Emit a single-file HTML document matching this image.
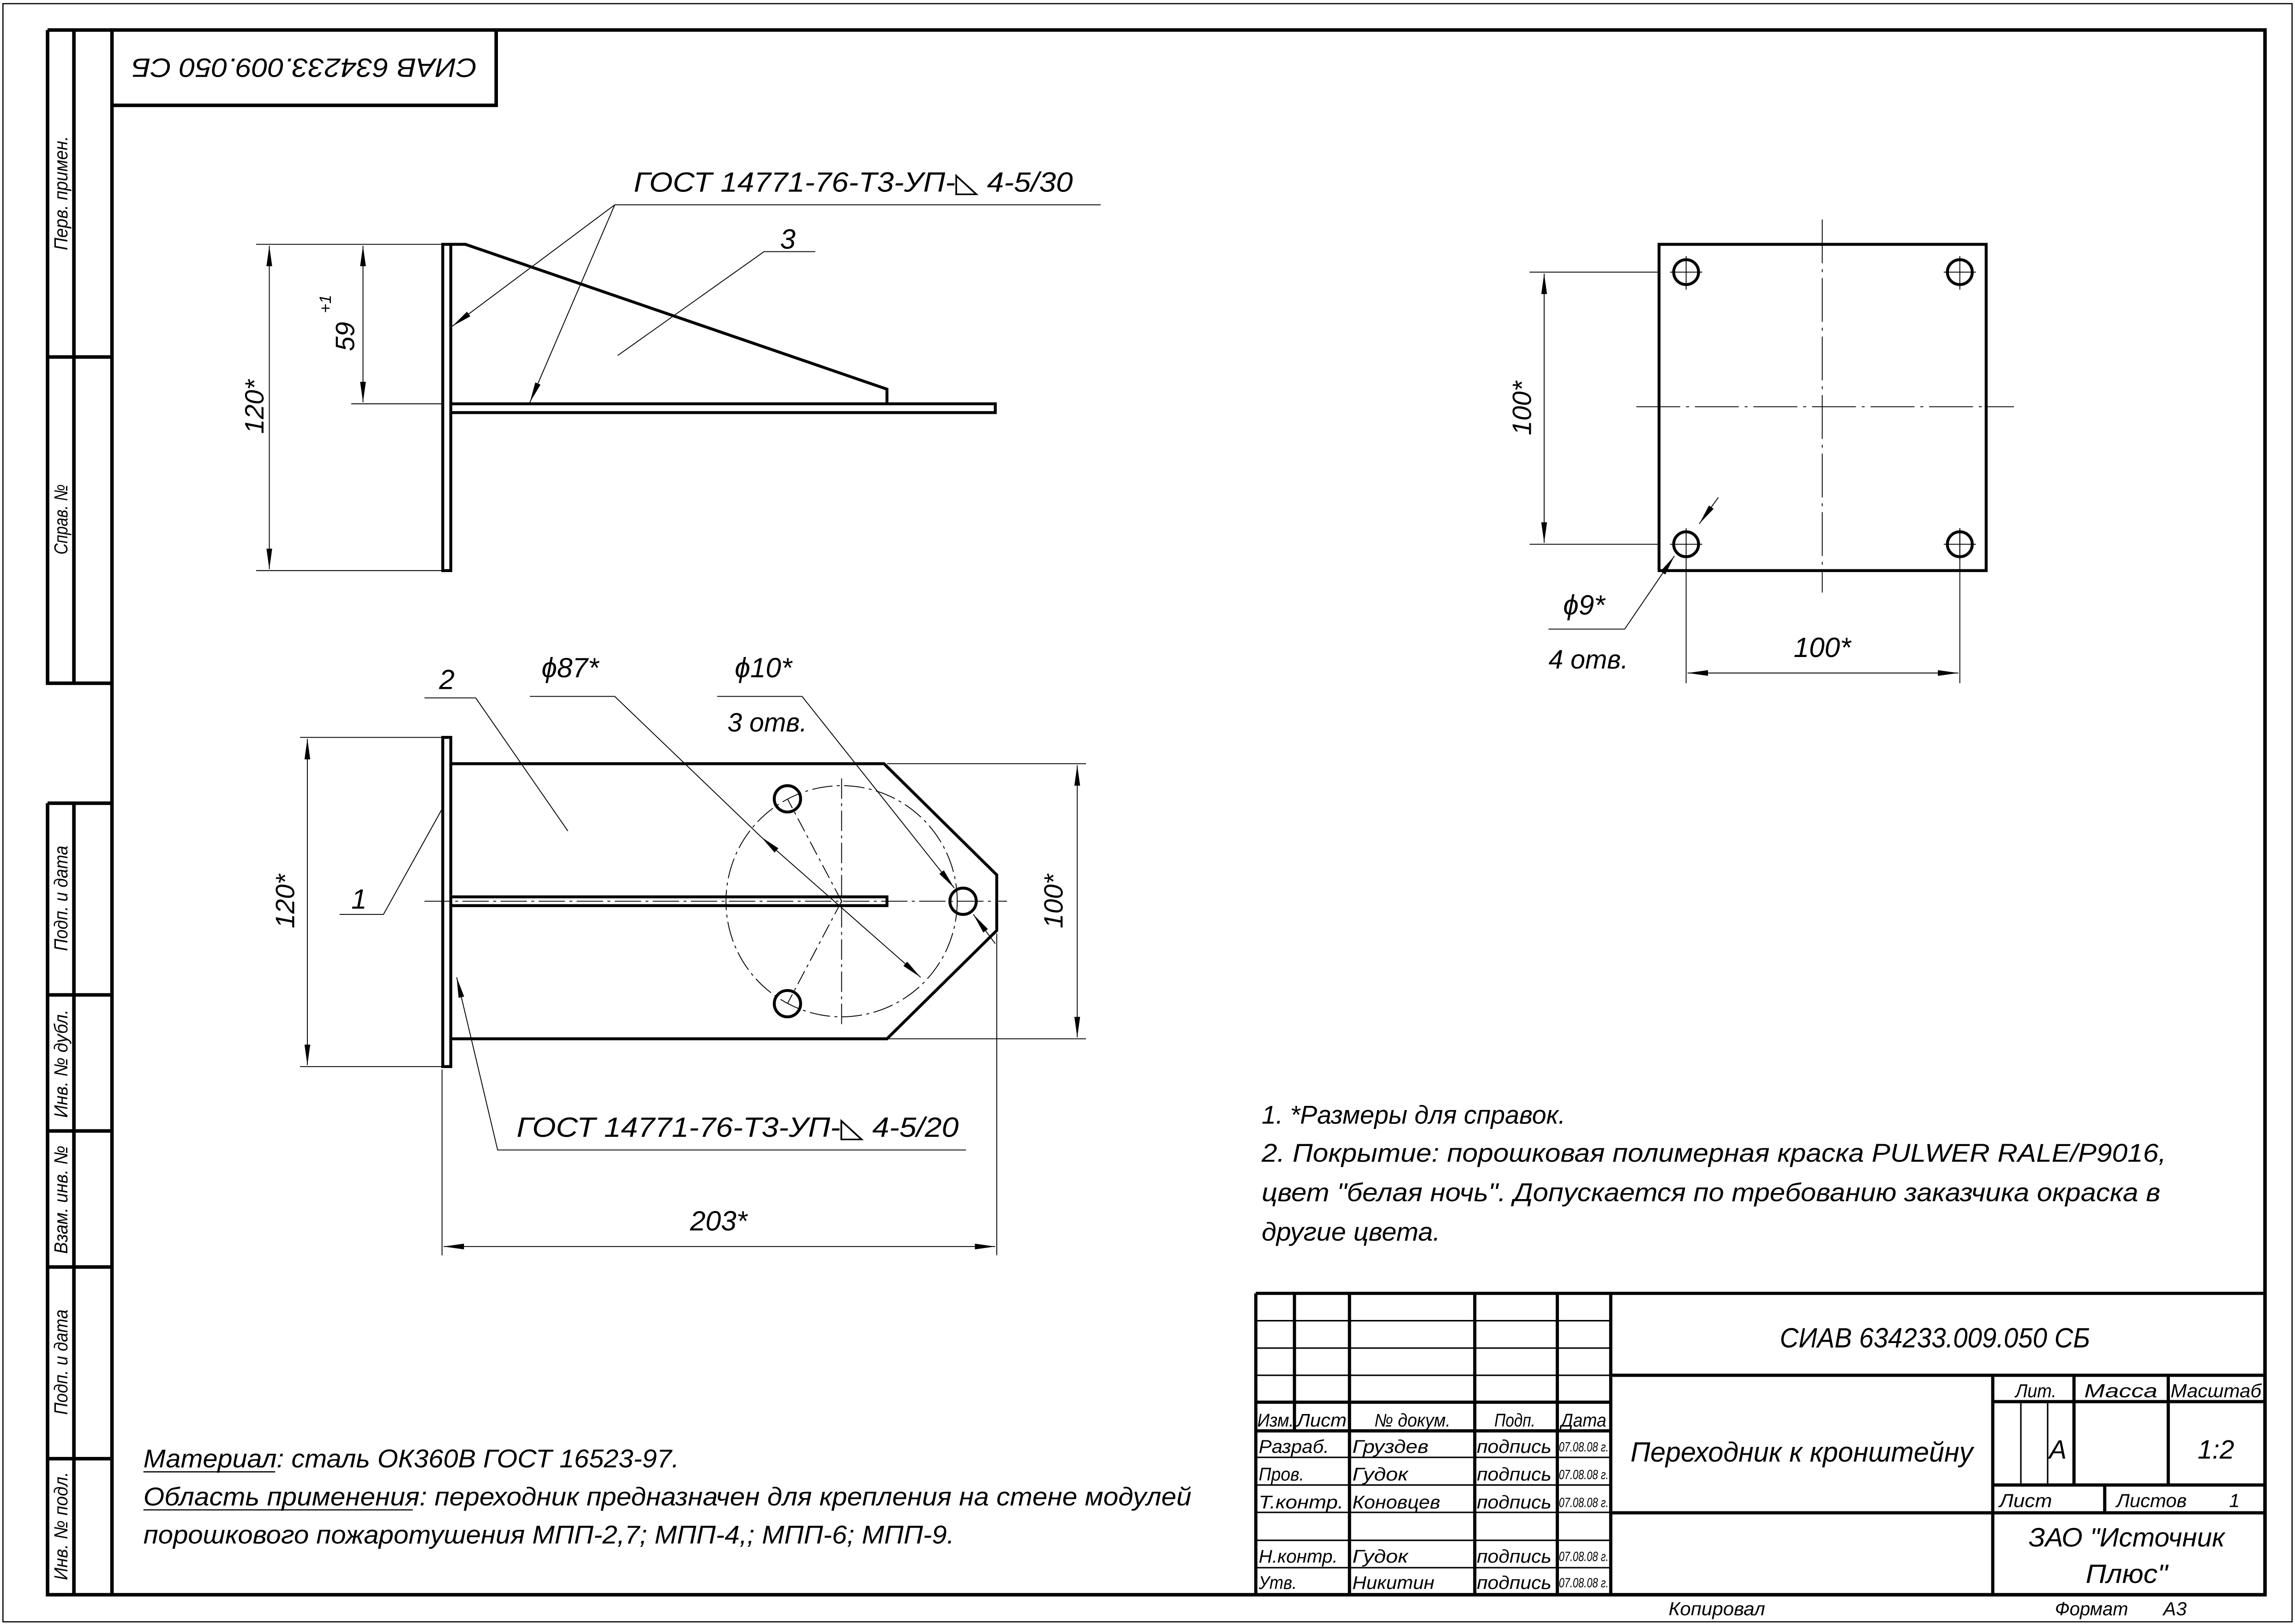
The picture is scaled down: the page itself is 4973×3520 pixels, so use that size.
<!DOCTYPE html>
<html><head><meta charset="utf-8">
<style>
html,body{margin:0;padding:0;background:#fff;}
svg{display:block;}
text{font-family:"Liberation Sans","DejaVu Sans",sans-serif;font-style:italic;fill:#000;}
</style></head>
<body>
<svg xmlns="http://www.w3.org/2000/svg" width="4973" height="3520" viewBox="0 0 1568 1110" preserveAspectRatio="none">
<defs>
<marker id="a" markerUnits="userSpaceOnUse" markerWidth="14" markerHeight="6" refX="10" refY="2" orient="auto-start-reverse" viewBox="0 0 10 4">
<path d="M0,0.6 L10,2 L0,3.4 Z" fill="#000"/>
</marker>
</defs>
<rect width="1568" height="1110" fill="#fff"/>
<rect x="2" y="2.5" width="1564" height="1106" fill="none" stroke="#000" stroke-width="0.8"/>
<g stroke="#000" stroke-width="2.4" fill="none">
<rect x="76.5" y="20.5" width="1471" height="1069.5"/>
<path d="M32.5,20.5 H76.5 M32.5,20.5 V467 H76.5 M50.5,20.5 V467 M32.5,244 H76.5"/>
<path d="M32.5,549 H76.5 M32.5,549 V1090 H76.5 M50.5,549 V1090 M32.5,680 H76.5 M32.5,773 H76.5 M32.5,866 H76.5 M32.5,997 H76.5"/>
<path d="M76.5,72 H339 V20.5"/>
</g>
<g font-size="13">
<text transform="translate(46,132) rotate(-90)" text-anchor="middle" textLength="78" lengthAdjust="spacingAndGlyphs">Перв. примен.</text>
<text transform="translate(46,355) rotate(-90)" text-anchor="middle" textLength="48" lengthAdjust="spacingAndGlyphs">Справ. №</text>
<text transform="translate(46,614) rotate(-90)" text-anchor="middle" textLength="72" lengthAdjust="spacingAndGlyphs">Подп. и дата</text>
<text transform="translate(46,727) rotate(-90)" text-anchor="middle" textLength="74" lengthAdjust="spacingAndGlyphs">Инв. № дубл.</text>
<text transform="translate(46,820) rotate(-90)" text-anchor="middle" textLength="74" lengthAdjust="spacingAndGlyphs">Взам. инв. №</text>
<text transform="translate(46,931) rotate(-90)" text-anchor="middle" textLength="72" lengthAdjust="spacingAndGlyphs">Подп. и дата</text>
<text transform="translate(46,1043) rotate(-90)" text-anchor="middle" textLength="74" lengthAdjust="spacingAndGlyphs">Инв. № подл.</text>
</g>
<text transform="translate(208,40) rotate(180)" text-anchor="middle" font-size="18" textLength="236" lengthAdjust="spacingAndGlyphs">СИАВ 634233.009.050 СБ</text>

<g stroke="#000" stroke-width="2" fill="none">
<rect x="302.5" y="167" width="5.5" height="223"/>
<path d="M308,167 H318 L606,266 V276"/>
<path d="M308,276 H680 V282 H308"/>
</g>
<g stroke="#000" stroke-width="0.6" fill="none">
<path d="M175,167 H302 M175,390 H302 M240,276 H302"/>
<path d="M184,168 V389" marker-start="url(#a)" marker-end="url(#a)"/>
<path d="M248,168 V275" marker-start="url(#a)" marker-end="url(#a)"/>
<path d="M752,140 H420"/>
<path d="M420,140 L309,223" marker-end="url(#a)"/>
<path d="M420,140 L362,275" marker-end="url(#a)"/>
<path d="M557,172 H522 L422,243"/>
</g>
<text transform="translate(180,278) rotate(-90)" text-anchor="middle" font-size="18">120*</text>
<text transform="translate(242,230) rotate(-90)" text-anchor="middle" font-size="18">59</text>
<text transform="translate(226,214) rotate(-90)" font-size="11">+1</text>
<text x="433" y="131" font-size="19" textLength="300" lengthAdjust="spacingAndGlyphs">ГОСТ 14771-76-Т3-УП-◺ 4-5/30</text>
<text x="533" y="170" font-size="19">3</text>

<g stroke="#000" stroke-width="2" fill="none">
<rect x="302.5" y="504" width="5.5" height="225"/>
<path d="M308,522 H604 L681,598 V636 L606,710 H308"/>
<path d="M308,613 H606 V619 H308"/>
<circle cx="538" cy="546" r="9"/>
<circle cx="538" cy="686" r="9"/>
<circle cx="658" cy="616" r="9"/>
</g>
<g stroke="#000" stroke-width="0.6" fill="none">
<circle cx="575" cy="616" r="79" stroke-dasharray="14,3,2,3"/>
<path d="M575,532 V700" stroke-dasharray="14,3,2,3"/>
<path d="M290,616 H688" stroke-dasharray="18,3,2,3"/>
<path d="M575,616 L538,546 M575,616 L538,686" stroke-dasharray="10,3,2,3"/>
<path d="M205,504 H302 M205,729 H302 M606,522 H742 M606,710 H742"/>
<path d="M210,505 V728" marker-start="url(#a)" marker-end="url(#a)"/>
<path d="M736,523 V709" marker-start="url(#a)" marker-end="url(#a)"/>
<path d="M302,731 V858 M681,638 V858"/>
<path d="M303,852 H680" marker-start="url(#a)" marker-end="url(#a)"/>
<path d="M362,476 H420 L520,572" />
<path d="M520,572 L629,668" marker-start="url(#a)" marker-end="url(#a)"/>
<path d="M490,476 H548 L652,607" marker-end="url(#a)"/>
<path d="M680,645 L665,625" marker-end="url(#a)"/>
<path d="M290,477 H325 L388,568"/>
<path d="M232,625 H262 L302,553"/>
<path d="M660,786 H340 L312,668" marker-end="url(#a)"/>
</g>
<text transform="translate(201,616) rotate(-90)" text-anchor="middle" font-size="18">120*</text>
<text transform="translate(726,616) rotate(-90)" text-anchor="middle" font-size="18">100*</text>
<text x="491" y="841" text-anchor="middle" font-size="19">203*</text>
<text x="370" y="463" font-size="19">ϕ87*</text>
<text x="502" y="463" font-size="19">ϕ10*</text>
<text x="497" y="500" font-size="18">3 отв.</text>
<text x="300" y="471" font-size="19">2</text>
<text x="240" y="621" font-size="19">1</text>
<text x="353" y="777" font-size="19" textLength="302" lengthAdjust="spacingAndGlyphs">ГОСТ 14771-76-Т3-УП-◺ 4-5/20</text>

<g stroke="#000" stroke-width="2" fill="none">
<rect x="1133.5" y="167" width="223.5" height="223"/>
<circle cx="1152" cy="186" r="8.5"/>
<circle cx="1339" cy="186" r="8.5"/>
<circle cx="1152" cy="372" r="8.5"/>
<circle cx="1339" cy="372" r="8.5"/>
</g>
<g stroke="#000" stroke-width="0.6" fill="none">
<path d="M1245,150 V405" stroke-dasharray="30,4,2,4"/>
<path d="M1118,278 H1376" stroke-dasharray="30,4,2,4"/>
<path d="M1152,175 V198 M1141,186 H1163 M1339,175 V198 M1328,186 H1350 M1141,372 H1163 M1328,372 H1350 M1339,361 V383"/>
<path d="M1045,186 H1133 M1045,372 H1133"/>
<path d="M1055,187 V371" marker-start="url(#a)" marker-end="url(#a)"/>
<path d="M1152,361 V467 M1339,361 V467"/>
<path d="M1153,460 H1338" marker-start="url(#a)" marker-end="url(#a)"/>
<path d="M1058,430 H1110 L1144,380" marker-end="url(#a)"/>
<path d="M1174,340 L1161,358" marker-end="url(#a)"/>
</g>
<text transform="translate(1046,279) rotate(-90)" text-anchor="middle" font-size="18">100*</text>
<text x="1245" y="449" text-anchor="middle" font-size="19">100*</text>
<text x="1068" y="420" font-size="19">ϕ9*</text>
<text x="1058" y="457" font-size="18">4 отв.</text>

<g font-size="17.5">
<text x="862" y="768">1.  *Размеры для справок.</text>
<text x="862" y="794" textLength="618" lengthAdjust="spacingAndGlyphs">2.  Покрытие: порошковая полимерная краска PULWER RALE/P9016,</text>
<text x="862" y="821" textLength="614" lengthAdjust="spacingAndGlyphs">цвет "белая ночь". Допускается по требованию заказчика окраска в</text>
<text x="862" y="848" textLength="122" lengthAdjust="spacingAndGlyphs">другие цвета.</text>
</g>
<g font-size="17.5">
<text x="98" y="1003" textLength="366" lengthAdjust="spacingAndGlyphs">Материал: сталь ОК360В ГОСТ 16523-97.</text>
<text x="98" y="1029" textLength="716" lengthAdjust="spacingAndGlyphs">Область применения: переходник предназначен для крепления на стене модулей</text>
<text x="98" y="1055" textLength="554" lengthAdjust="spacingAndGlyphs">порошкового пожаротушения МПП-2,7; МПП-4,; МПП-6; МПП-9.</text>
</g>
<path d="M98,1006 H188 M98,1032 H282" stroke="#000" stroke-width="0.8"/>

<g stroke="#000" fill="none">
<g stroke-width="2.2">
<path d="M858,884 H1547.5 M858,884 V1090"/>
<path d="M858,958.4 H1100.5 M858,978 H1100.5"/>
<path d="M884.4,884 V978 M922,884 V1090 M1007.6,884 V1090 M1064,884 V1090 M1100.5,884 V1090"/>
<path d="M1100.5,940 H1547.5 M1100.5,1034 H1547.5"/>
<path d="M1361.5,940 V1090 M1361.5,958 H1547.5 M1417,940 V1015 M1481.4,940 V1015 M1361.5,1015 H1547.5 M1438,1015 V1034"/>
</g>
<g stroke-width="1">
<path d="M858,902.7 H1100.5 M858,921.4 H1100.5 M858,940 H1100.5"/>
<path d="M858,996.1 H1100.5 M858,1015 H1100.5 M858,1033.7 H1100.5 M858,1052.8 H1100.5 M858,1071.5 H1100.5"/>
<path d="M1380.7,959 V1015 M1399,959 V1015"/>
</g>
</g>
<text x="1322" y="921" text-anchor="middle" font-size="19" textLength="212" lengthAdjust="spacingAndGlyphs">СИАВ 634233.009.050 СБ</text>
<text x="1231" y="999" text-anchor="middle" font-size="19" textLength="234" lengthAdjust="spacingAndGlyphs">Переходник к кронштейну</text>
<g font-size="13">
<text x="1391" y="955" text-anchor="middle" textLength="28" lengthAdjust="spacingAndGlyphs">Лит.</text>
<text x="1449" y="955" text-anchor="middle" textLength="50" lengthAdjust="spacingAndGlyphs">Масса</text>
<text x="1514" y="955" text-anchor="middle" textLength="62" lengthAdjust="spacingAndGlyphs">Масштаб</text>
<text x="1366" y="1030" textLength="36" lengthAdjust="spacingAndGlyphs">Лист</text>
<text x="1446" y="1030" textLength="48" lengthAdjust="spacingAndGlyphs">Листов</text>
<text x="1523" y="1030">1</text>
</g>
<text x="1406" y="997" text-anchor="middle" font-size="18">А</text>
<text x="1514" y="997" text-anchor="middle" font-size="18">1:2</text>
<text x="1453" y="1057" text-anchor="middle" font-size="18" textLength="134" lengthAdjust="spacingAndGlyphs">ЗАО "Источник</text>
<text x="1453" y="1082" text-anchor="middle" font-size="18" textLength="56" lengthAdjust="spacingAndGlyphs">Плюс"</text>
<g font-size="12.5">
<text x="859" y="975" textLength="25" lengthAdjust="spacingAndGlyphs">Изм.</text>
<text x="886" y="975" textLength="34" lengthAdjust="spacingAndGlyphs">Лист</text>
<text x="965" y="975" text-anchor="middle" textLength="52" lengthAdjust="spacingAndGlyphs">№ докум.</text>
<text x="1035" y="975" text-anchor="middle" textLength="28" lengthAdjust="spacingAndGlyphs">Подп.</text>
<text x="1082" y="975" text-anchor="middle" textLength="31" lengthAdjust="spacingAndGlyphs">Дата</text>
<text x="860" y="993" textLength="48" lengthAdjust="spacingAndGlyphs">Разраб.</text>
<text x="860" y="1012" textLength="31" lengthAdjust="spacingAndGlyphs">Пров.</text>
<text x="860" y="1031" textLength="58" lengthAdjust="spacingAndGlyphs">Т.контр.</text>
<text x="860" y="1068" textLength="54" lengthAdjust="spacingAndGlyphs">Н.контр.</text>
<text x="860" y="1086" textLength="26" lengthAdjust="spacingAndGlyphs">Утв.</text>
<text x="924" y="993" textLength="52" lengthAdjust="spacingAndGlyphs">Груздев</text>
<text x="924" y="1012" textLength="38" lengthAdjust="spacingAndGlyphs">Гудок</text>
<text x="924" y="1031" textLength="60" lengthAdjust="spacingAndGlyphs">Коновцев</text>
<text x="924" y="1068" textLength="38" lengthAdjust="spacingAndGlyphs">Гудок</text>
<text x="924" y="1086" textLength="56" lengthAdjust="spacingAndGlyphs">Никитин</text>
<text x="1009" y="993" textLength="51" lengthAdjust="spacingAndGlyphs">подпись</text>
<text x="1009" y="1012" textLength="51" lengthAdjust="spacingAndGlyphs">подпись</text>
<text x="1009" y="1031" textLength="51" lengthAdjust="spacingAndGlyphs">подпись</text>
<text x="1009" y="1068" textLength="51" lengthAdjust="spacingAndGlyphs">подпись</text>
<text x="1009" y="1086" textLength="51" lengthAdjust="spacingAndGlyphs">подпись</text>
</g>
<g font-size="9">
<text x="1065" y="992" textLength="34" lengthAdjust="spacingAndGlyphs">07.08.08 г.</text>
<text x="1065" y="1011" textLength="34" lengthAdjust="spacingAndGlyphs">07.08.08 г.</text>
<text x="1065" y="1030" textLength="34" lengthAdjust="spacingAndGlyphs">07.08.08 г.</text>
<text x="1065" y="1067" textLength="34" lengthAdjust="spacingAndGlyphs">07.08.08 г.</text>
<text x="1065" y="1085" textLength="34" lengthAdjust="spacingAndGlyphs">07.08.08 г.</text>
</g>
<g font-size="13">
<text x="1140" y="1104" textLength="66" lengthAdjust="spacingAndGlyphs">Копировал</text>
<text x="1404" y="1104" textLength="50" lengthAdjust="spacingAndGlyphs">Формат</text>
<text x="1478" y="1104" textLength="16" lengthAdjust="spacingAndGlyphs">А3</text>
</g>
</svg>
</body></html>
